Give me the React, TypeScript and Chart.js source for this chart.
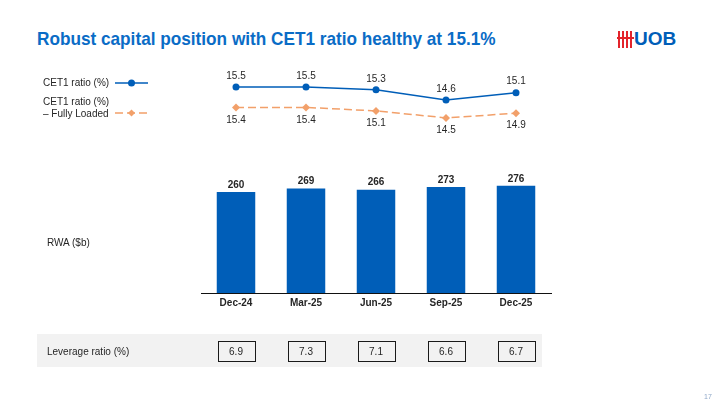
import React, { useEffect, useRef } from "react";
import { Chart, registerables } from "chart.js";

Chart.register(...registerables);

const categories = ["Dec-24", "Mar-25", "Jun-25", "Sep-25", "Dec-25"];
const cet1Ratio = [15.5, 15.5, 15.3, 14.6, 15.1];
const cet1FullyLoaded = [15.4, 15.4, 15.1, 14.5, 14.9];
const rwa = [260, 269, 266, 273, 276];
const leverageRatio = [6.9, 7.3, 7.1, 6.6, 6.7];

const BLUE = "#005EB8";
const TITLE_BLUE = "#0A6CC6";
const ORANGE = "#F2A06A";
const TEXT = "#262626";
const FONT = "'Liberation Sans', Arial, sans-serif";

const valueLabels = {
  id: "valueLabels",
  afterDatasetsDraw(chart: any) {
    const ctx = chart.ctx;
    ctx.save();
    ctx.textAlign = "center";
    ctx.textBaseline = "middle";
    ctx.fillStyle = TEXT;
    ctx.font = `bold 10px ${FONT}`;
    chart.getDatasetMeta(0).data.forEach((el: any, i: number) => {
      ctx.fillText(String(rwa[i]), el.x, el.y - 7);
    });
    ctx.font = `10px ${FONT}`;
    chart.getDatasetMeta(1).data.forEach((el: any, i: number) => {
      ctx.fillText(cet1Ratio[i].toFixed(1), el.x, el.y - 11);
    });
    chart.getDatasetMeta(2).data.forEach((el: any, i: number) => {
      ctx.fillText(cet1FullyLoaded[i].toFixed(1), el.x, el.y + 12.5);
    });
    // leverage ratio cells
    const xs = chart.scales.x;
    leverageRatio.forEach((v, i) => {
      const x = xs.getPixelForValue(i);
      const left = Math.round(x - 18.5) + 0.5;
      ctx.fillStyle = "#f2f2f2";
      ctx.fillRect(left, 341.5, 37, 20);
      ctx.strokeStyle = "#1a1a1a";
      ctx.lineWidth = 1;
      ctx.strokeRect(left, 341.5, 37, 20);
      ctx.fillStyle = TEXT;
      ctx.fillText(v.toFixed(1), x, 352);
    });
    ctx.restore();
  },
};

export default function App() {
  const ref = useRef<HTMLCanvasElement | null>(null);

  useEffect(() => {
    if (!ref.current) return;
    const chart = new Chart(ref.current, {
      type: "bar",
      data: {
        labels: categories,
        datasets: [
          {
            type: "bar",
            label: "RWA ($b)",
            data: rwa,
            backgroundColor: BLUE,
            yAxisID: "yBar",
            barPercentage: 0.55,
            categoryPercentage: 1,
            order: 3,
          } as any,
          {
            type: "line",
            label: "CET1 ratio (%)",
            data: cet1Ratio,
            borderColor: BLUE,
            backgroundColor: BLUE,
            borderWidth: 1.5,
            pointStyle: "circle",
            pointRadius: 3.5,
            pointBorderWidth: 0,
            yAxisID: "yBlue",
            order: 1,
          } as any,
          {
            type: "line",
            label: "CET1 ratio (%) – Fully Loaded",
            data: cet1FullyLoaded,
            borderColor: ORANGE,
            backgroundColor: ORANGE,
            borderWidth: 1.5,
            borderDash: [8, 4],
            pointStyle: "rectRot",
            pointRadius: 4,
            pointBorderWidth: 0,
            yAxisID: "yOrange",
            order: 2,
          } as any,
        ],
      },
      options: {
        animation: false,
        responsive: false,
        devicePixelRatio: 1,
        layout: { padding: { left: 201, right: 175, top: 60, bottom: 97 } },
        plugins: { legend: { display: false }, tooltip: { enabled: false } },
        scales: {
          x: {
            type: "category",
            offset: true,
            grid: { display: false, drawTicks: false },
            border: { display: true, color: "#111", width: 1 },
            ticks: {
              font: { family: FONT, size: 10, weight: "bold" },
              color: TEXT,
              padding: 4,
            },
          },
          yBar: { display: false, min: 0, max: 600 },
          yBlue: { display: false, min: 1.204, max: 17.37 },
          yOrange: { display: false, min: -0.556, max: 19.477 },
        },
      } as any,
      plugins: [valueLabels],
    });
    return () => chart.destroy();
  }, []);

  const txt: React.CSSProperties = {
    position: "absolute",
    fontFamily: FONT,
    fontSize: 10,
    color: TEXT,
    lineHeight: "12px",
    whiteSpace: "nowrap",
  };

  return (
    <div
      style={{
        position: "fixed",
        left: 0,
        top: 0,
        width: 726,
        height: 410,
        background: "#fff",
        overflow: "hidden",
      }}
    >
      <div
        style={{
          position: "absolute",
          left: 37,
          top: 27,
          fontFamily: FONT,
          fontWeight: "bold",
          fontSize: 19,
          lineHeight: "24px",
          color: TITLE_BLUE,
          whiteSpace: "nowrap",
          transform: "scaleX(0.905)",
          transformOrigin: "left center",
        }}
      >
        Robust capital position with CET1 ratio healthy at 15.1%
      </div>
      <svg style={{ position: "absolute", left: 617, top: 30 }} width={18} height={19}>
        {[1, 5, 9, 13].map((x) => (
          <rect key={x} x={x} y={1} width={2} height={17} fill="#E3242B" />
        ))}
        <rect x={0} y={7} width={17} height={2} fill="#E3242B" />
      </svg>
      <div
        style={{
          position: "absolute",
          left: 634,
          top: 29,
          fontFamily: FONT,
          fontWeight: "bold",
          fontSize: 19,
          lineHeight: "20px",
          color: BLUE,
        }}
      >
        UOB
      </div>
      <div
        style={{
          position: "absolute",
          left: 37,
          top: 334,
          width: 505,
          height: 33,
          background: "#f2f2f2",
        }}
      />
      <canvas
        ref={ref}
        width={726}
        height={410}
        style={{ position: "absolute", left: 0, top: 0, width: 726, height: 410 }}
      />
      <div style={{ ...txt, left: 43, top: 77 }}>CET1 ratio (%)</div>
      <svg style={{ position: "absolute", left: 114, top: 78 }} width={36} height={10}>
        <line x1={1} y1={5} x2={34} y2={5} stroke={BLUE} strokeWidth={1.5} />
        <circle cx={17.5} cy={5} r={3.5} fill={BLUE} />
      </svg>
      <div style={{ ...txt, left: 43, top: 96 }}>
        CET1 ratio (%)
        <br />– Fully Loaded
      </div>
      <svg style={{ position: "absolute", left: 114, top: 108 }} width={36} height={10}>
        <line x1={1} y1={5} x2={34} y2={5} stroke={ORANGE} strokeWidth={1.5} strokeDasharray="8 4" />
        <rect x={15} y={2.5} width={5} height={5} fill={ORANGE} transform="rotate(45 17.5 5)" />
      </svg>
      <div style={{ ...txt, left: 47, top: 237 }}>RWA ($b)</div>
      <div style={{ ...txt, left: 47, top: 346 }}>Leverage ratio (%)</div>
      <div style={{ ...txt, left: 704, top: 391, fontSize: 7, color: "#8fa8c8" }}>17</div>
    </div>
  );
}
